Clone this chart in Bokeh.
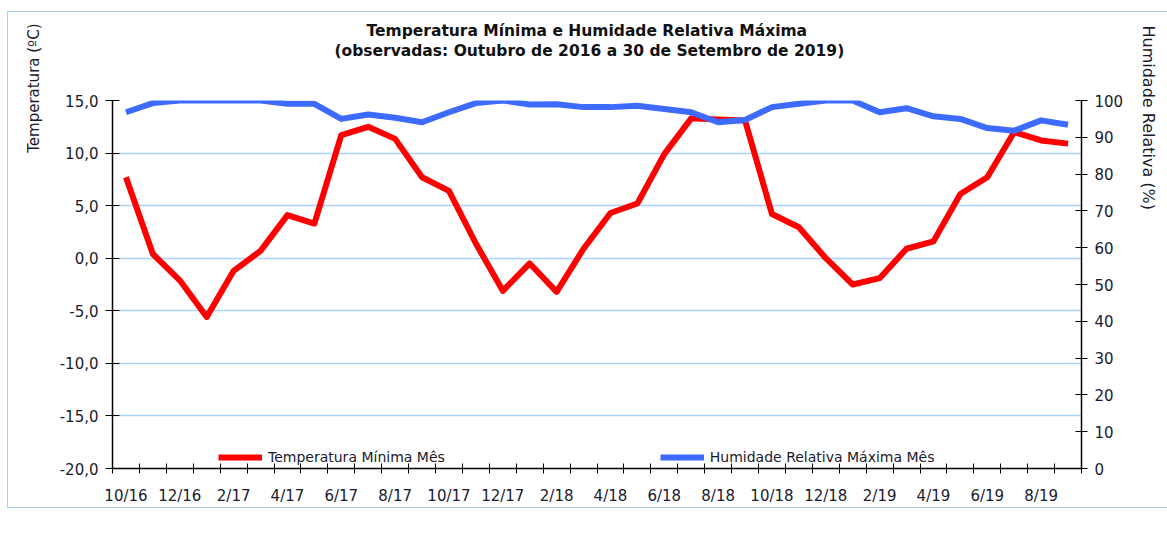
from bokeh.plotting import figure
from bokeh.models import (Range1d, LinearAxis, FixedTicker, CustomJSTickFormatter,
                          Legend, LegendItem, Title, ColumnDataSource)
from bokeh.embed import file_html
from bokeh.resources import INLINE

months = ["10/16", "11/16", "12/16", "1/17", "2/17", "3/17", "4/17", "5/17", "6/17",
          "7/17", "8/17", "9/17", "10/17", "11/17", "12/17", "1/18", "2/18", "3/18",
          "4/18", "5/18", "6/18", "7/18", "8/18", "9/18", "10/18", "11/18", "12/18",
          "1/19", "2/19", "3/19", "4/19", "5/19", "6/19", "7/19", "8/19", "9/19"]
temp_min = [7.7, 0.4, -2.1, -5.6, -1.2, 0.7, 4.1, 3.3, 11.7, 12.5, 11.35, 7.7,
            6.4, 1.4, -3.1, -0.5, -3.2, 0.9, 4.3, 5.2, 9.9, 13.3, 13.2, 13.1,
            4.2, 2.95, 0.0, -2.5, -1.9, 0.9, 1.6, 6.1, 7.7, 12.0, 11.2, 10.9]
hum_max = [96.8, 99.3, 100, 100, 100, 100, 99.1, 99.1, 95.0, 96.2, 95.3, 94.1,
           96.8, 99.3, 100, 98.9, 99.0, 98.2, 98.2, 98.6, 97.7, 96.8, 94.1, 94.7,
           98.2, 99.1, 100, 100, 96.8, 97.9, 95.7, 95.0, 92.5, 91.8, 94.6, 93.4]
temp_ticks = [-20, -15, -10, -5, 0, 5, 10, 15]
hum_ticks = [0, 10, 20, 30, 40, 50, 60, 70, 80, 90, 100]
title_1 = "Temperatura Mínima e Humidade Relativa Máxima"
title_2 = "(observadas: Outubro de 2016 a 30 de Setembro de 2019)"

n = len(months)
xs = [i + 0.5 for i in range(n)]
src = ColumnDataSource(dict(x=xs, t=temp_min, h=hum_max, m=months))

FONT = "DejaVu Sans"
TXT = "#1a1a2e"
GRID = "#a9d3f7"

p = figure(frame_width=969, frame_height=368, output_backend="svg", toolbar_location=None,
           x_range=Range1d(0, n), y_range=Range1d(-20, 15),
           min_border_left=103, min_border_right=84, min_border_top=88, min_border_bottom=10)
p.styles = {"border": "1px solid #a6cff2", "margin-left": "7px", "margin-top": "11px"}
p.extra_y_ranges = {"hum": Range1d(0, 100)}
p.outline_line_color = None
p.background_fill_color = "white"
p.border_fill_color = "white"

tkw = dict(text_font=FONT, text_font_size="15.5px", text_font_style="bold",
           text_color="#111111", standoff=0, align="left")
p.add_layout(Title(text=title_2 + "\n\n", offset=222, text_line_height=1.13, **tkw), "above")
p.add_layout(Title(text=title_1, offset=254, text_line_height=1.17, **tkw), "above")

# x axis
xa = p.xaxis[0]
xa.ticker = FixedTicker(ticks=[i + 0.5 for i in range(0, n, 2)], minor_ticks=list(range(0, n + 1)))
xa.formatter = CustomJSTickFormatter(args=dict(months=months),
                                     code="return months[Math.floor(tick)] || '';")
xa.major_tick_in = 0
xa.major_tick_out = 0
xa.minor_tick_in = 5
xa.minor_tick_out = 5
xa.minor_tick_line_color = "black"
xa.axis_line_color = "black"
xa.axis_line_width = 1.5
xa.major_label_standoff = 13
xa.major_label_text_font = FONT
xa.major_label_text_font_size = "15px"
xa.major_label_text_color = TXT

# left y axis
ya = p.yaxis[0]
ya.ticker = FixedTicker(ticks=temp_ticks)
ya.formatter = CustomJSTickFormatter(code="return tick.toFixed(1).replace('.', ',');")
ya.major_tick_in = 7
ya.major_tick_out = 7
ya.minor_tick_line_color = None
ya.axis_line_color = "black"
ya.axis_line_width = 1.5
ya.major_label_standoff = 7
ya.major_label_text_font = FONT
ya.major_label_text_font_size = "15px"
ya.major_label_text_color = TXT

# right y axis
ra = LinearAxis(y_range_name="hum", ticker=FixedTicker(ticks=hum_ticks))
ra.major_tick_in = 6
ra.major_tick_out = 6
ra.minor_tick_line_color = None
ra.axis_line_color = "black"
ra.axis_line_width = 1.5
ra.major_label_standoff = 7
ra.major_label_text_font = FONT
ra.major_label_text_font_size = "15px"
ra.major_label_text_color = TXT
p.add_layout(ra, "right")

p.xgrid.grid_line_color = None
p.ygrid.ticker = FixedTicker(ticks=temp_ticks)
p.ygrid.grid_line_color = GRID
p.ygrid.grid_line_width = 1.5

r_t = p.line("x", "t", source=src, line_color="#ff0000", line_width=6, line_join="round")
r_h = p.line("x", "h", source=src, y_range_name="hum", line_color="#3d6bff",
             line_width=6, line_join="round")

legend = Legend(items=[LegendItem(label="Temperatura Mínima Mês", renderers=[r_t]),
                       LegendItem(label="Humidade Relativa Máxima Mês", renderers=[r_h])],
                orientation="horizontal", location=(106, 3), spacing=215,
                glyph_width=44, glyph_height=12, label_text_font=FONT,
                label_text_font_size="14px", label_text_color=TXT,
                border_line_color=None, background_fill_alpha=0,
                margin=0, padding=11, label_standoff=6)
p.add_layout(legend, "center")

lt = Title(text="Temperatura (ºC)", align="right", text_font=FONT, text_font_size="15px",
           text_font_style="normal", text_color=TXT, standoff=28, offset=-77)
p.add_layout(lt, "left")
rt = Title(text="Humidade Relativa (%)", align="left", text_font=FONT, text_font_size="16px",
           text_font_style="normal", text_color=TXT, standoff=24, offset=-75)
p.add_layout(rt, "right")

open("out.html", "w").write(file_html(p, INLINE))
